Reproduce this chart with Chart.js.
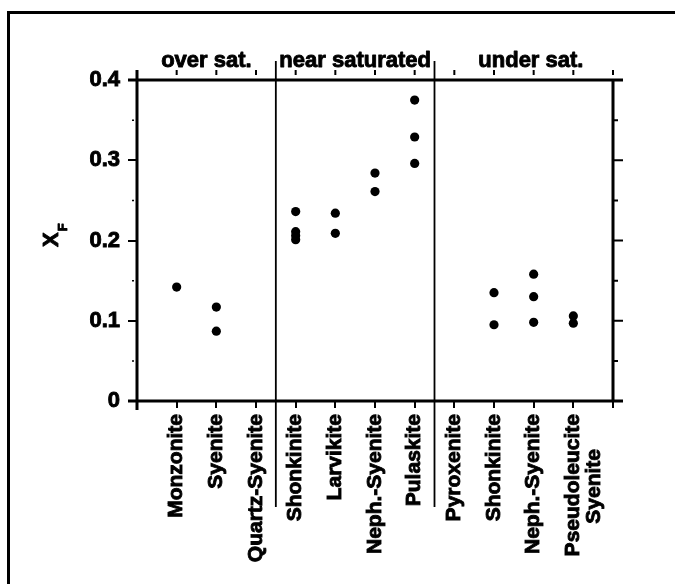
<!DOCTYPE html>
<html>
<head>
<meta charset="utf-8">
<script src="https://cdn.jsdelivr.net/npm/chart.js@4.4.0/dist/chart.umd.min.js"></script>
<style>
  body { margin: 0; background: #fff; }
  canvas { display: block; }
</style>
</head>
<body>
<canvas id="xfChart" width="675" height="584"></canvas>
<script>
// rock types along the x axis (positions 1..11)
var categories = [
  'Monzonite', 'Syenite', 'Quartz-Syenite',
  'Shonkinite', 'Larvikite', 'Neph.-Syenite', 'Pulaskite',
  'Pyroxenite', 'Shonkinite', 'Neph.-Syenite', ['Pseudoleucite', 'Syenite      ']
];
// X_F values measured for each rock type (same order as categories)
var xfValues = [
  [0.142],
  [0.117, 0.087],
  [],
  [0.236, 0.211, 0.206, 0.201],
  [0.234, 0.209],
  [0.284, 0.261],
  [0.375, 0.329, 0.296],
  [],
  [0.135, 0.095],
  [0.158, 0.130, 0.098],
  [0.106, 0.097]
];
// groups shown above the plot and where the separators go
var groupNames = ['over sat.', 'near saturated', 'under sat.'];
var groupCenters = [1.75, 5.5, 9.93];
var groupDividers = [3.5, 7.5];

var yTicks = [0, 0.1, 0.2, 0.3, 0.4];
var yTickLabels = ['0', '0.1', '0.2', '0.3', '0.4'];
var yMinorTicks = [0.05, 0.15, 0.25, 0.35];

var FONT = '"Liberation Sans", Arial, sans-serif';

var points = [];
xfValues.forEach(function(vals, i){
  vals.forEach(function(v){ points.push({x: i + 1, y: v}); });
});

function heavyText(ctx, s, x, y){
  ctx.strokeText(s, x, y);
  ctx.fillText(s, x, y);
}

// 枠線・補助目盛・グループ名など
var decorations = {
  id: 'decorations',
  afterDraw: function(chart){
    var ctx = chart.ctx;
    var xs = chart.scales.x, ys = chart.scales.y;
    var L = xs.getPixelForValue(0), R = xs.getPixelForValue(12);
    var T = ys.getPixelForValue(0.4), B = ys.getPixelForValue(0);
    ctx.save();
    ctx.strokeStyle = '#000';
    ctx.lineCap = 'butt';

    // outer frame (top and left only)
    ctx.lineWidth = 3;
    ctx.beginPath();
    ctx.moveTo(8.5, 584); ctx.lineTo(8.5, 12.5); ctx.lineTo(675, 12.5);
    ctx.stroke();

    // axes
    ctx.lineWidth = 3;
    ctx.beginPath();
    ctx.moveTo(L - 9, T); ctx.lineTo(R + 10, T);
    ctx.moveTo(L - 9, B); ctx.lineTo(R + 10, B);
    ctx.moveTo(L, T - 10); ctx.lineTo(L, B + 9);
    ctx.moveTo(R, T); ctx.lineTo(R, B);
    ctx.stroke();

    // right axis ticks
    ctx.lineWidth = 2;
    ctx.beginPath();
    yTicks.forEach(function(v){
      var y = ys.getPixelForValue(v);
      ctx.moveTo(R, y); ctx.lineTo(R + 10, y);
    });
    yMinorTicks.forEach(function(v){
      var y = ys.getPixelForValue(v);
      ctx.moveTo(R, y); ctx.lineTo(R + 5, y);
    });
    ctx.stroke();

    // left minor ticks
    ctx.lineWidth = 1.5;
    ctx.beginPath();
    yMinorTicks.forEach(function(v){
      var y = ys.getPixelForValue(v);
      ctx.moveTo(L - 5, y); ctx.lineTo(L - 3, y);
    });
    ctx.stroke();

    // small ticks above the top axis
    ctx.lineWidth = 2;
    ctx.beginPath();
    for (var i = 1; i <= 12; i++) {
      var x = xs.getPixelForValue(i);
      ctx.moveTo(x, T - 10); ctx.lineTo(x, T - 5);
    }
    ctx.stroke();

    // group separators
    ctx.lineWidth = 1.8;
    ctx.beginPath();
    groupDividers.forEach(function(v){
      var x = xs.getPixelForValue(v);
      ctx.moveTo(x, T - 19); ctx.lineTo(x, 507);
    });
    ctx.stroke();

    // group names
    ctx.fillStyle = '#000';
    ctx.lineWidth = 0.9;
    ctx.lineJoin = 'round';
    ctx.font = 'bold 22px ' + FONT;
    ctx.textAlign = 'center';
    ctx.textBaseline = 'alphabetic';
    groupNames.forEach(function(name, k){
      heavyText(ctx, name, xs.getPixelForValue(groupCenters[k]), T - 13);
    });

    // y title X_F
    ctx.translate(58, 247);
    ctx.rotate(-Math.PI / 2);
    ctx.textAlign = 'left';
    ctx.font = 'bold 22px ' + FONT;
    heavyText(ctx, 'X', 0, 0);
    var w = ctx.measureText('X').width;
    ctx.font = 'bold 13px ' + FONT;
    heavyText(ctx, 'F', w + 1, 9);
    ctx.restore();
  }
};

var ctx = document.getElementById('xfChart');
var myChart = new Chart(ctx, {
  type: 'scatter',
  data: {
    datasets: [{
      data: points,
      backgroundColor: '#000',
      borderWidth: 0,
      pointRadius: 4.6,
      pointHoverRadius: 4.6
    }]
  },
  options: {
    responsive: false,
    animation: false,
    layout: { padding: { top: 80, right: 62, left: 0, bottom: 0 } },
    plugins: { legend: { display: false }, tooltip: { enabled: false } },
    scales: {
      x: {
        type: 'linear',
        min: 0, max: 12,
        border: { display: false },
        grid: { drawOnChartArea: false, tickLength: 7, color: '#000', lineWidth: 2 },
        ticks: {
          stepSize: 1,
          autoSkip: false,
          minRotation: 90, maxRotation: 90,
          padding: 6,
          color: '#000',
          textStrokeColor: '#000',
          textStrokeWidth: 0.9,
          font: { family: FONT, size: 21, weight: 'bold', lineHeight: 1.0 },
          callback: function(v){
            return (v >= 1 && v <= categories.length) ? categories[v - 1] : '';
          }
        },
        afterFit: function(s){ s.height = 183; }
      },
      y: {
        min: 0, max: 0.4,
        border: { display: false },
        grid: { drawOnChartArea: false, tickLength: 9, color: '#000', lineWidth: 2 },
        afterBuildTicks: function(s){
          s.ticks = yTicks.map(function(v){ return {value: v}; });
        },
        ticks: {
          padding: 8,
          color: '#000',
          textStrokeColor: '#000',
          textStrokeWidth: 0.9,
          font: { family: FONT, size: 22, weight: 'bold' },
          callback: function(v, i){ return yTickLabels[i]; }
        },
        afterFit: function(s){ s.width = 137; }
      }
    }
  },
  plugins: [decorations]
});
</script>
</body>
</html>
